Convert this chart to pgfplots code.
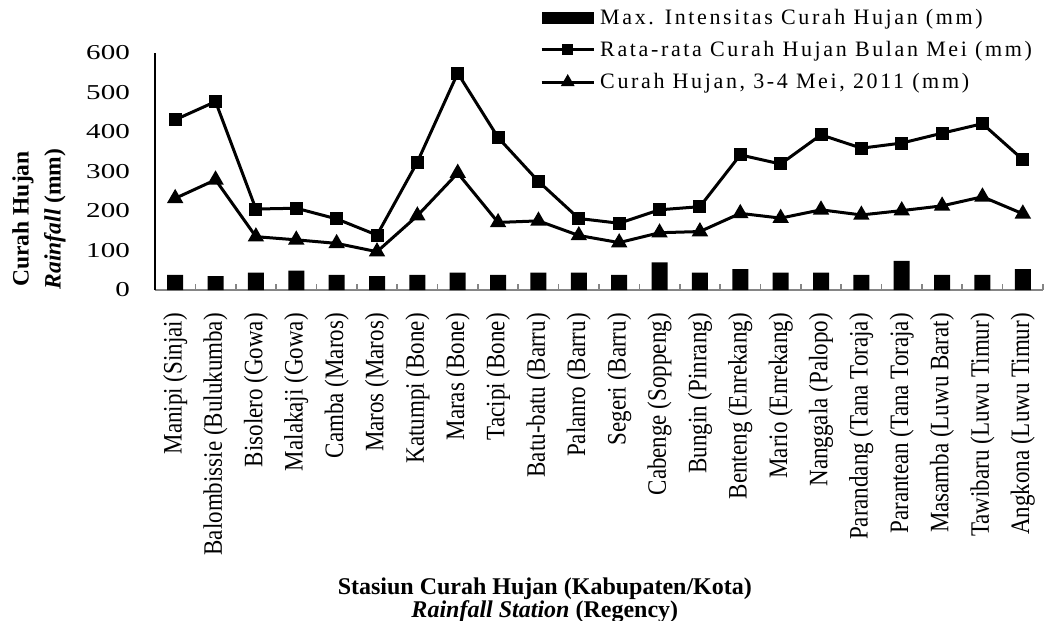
\documentclass[border=0pt]{standalone}
\usepackage{fontspec}
\setmainfont{Liberation Serif}
\newfontfamily\rotfont{Liberation Serif}[FakeStretch=0.865]
\newfontfamily\yfont{Liberation Serif}[FakeStretch=1.37]
\newfontfamily\legfont{Liberation Serif}[LetterSpace=12]
\usepackage{pgfplots}
\usepackage{pgfplotstable}
\pgfplotsset{compat=1.18}
\pgfplotstableread{
x bar avg may
0 38 431 232
1 35 477 279
2 44 205 135
3 49 207 127
4 38 180 118
5 35 139 97
6 38 324 188
7 44 549 296
8 38 386 171
9 44 275 175
10 44 181 138
11 38 169 120
12 70 203 145
13 44 211 148
14 53 342 194
15 44 319 182
16 44 393 203
17 38 359 190
18 74 372 201
19 38 397 213
20 38 421 236
21 53 330 193
}\data
\begin{document}
\begin{tikzpicture}
\useasboundingbox (0,0) rectangle (1045bp,621bp);
\begin{axis}[
  at={(155bp,331bp)}, anchor=south west,
  scale only axis, width=888bp, height=237bp,
  xmin=-0.5, xmax=21.5, ymin=0, ymax=600,
  clip=false,
  axis x line*=bottom, axis y line*=left,
  x axis line style={draw=black!48, line width=1.6bp, -},
  y axis line style={draw=black, line width=1.6bp, -},
  xtick={0,...,21},
  xticklabels={Manipi (Sinjai),Balombissie (Bulukumba),Bisolero (Gowa),Malakaji (Gowa),Camba (Maros),Maros (Maros),Katumpi (Bone),Maras (Bone),Tacipi (Bone),Batu-batu (Barru),Palanro (Barru),Segeri (Barru),Cabenge (Soppeng),Bungin (Pinrang),Benteng (Enrekang),Mario (Enrekang),Nanggala (Palopo),Parandang (Tana Toraja),Parantean (Tana Toraja),Masamba (Luwu Barat),Tawibaru (Luwu Timur),Angkona (Luwu Timur)},
  minor xtick={-0.5,0.5,...,21.5},
  major tick length=0pt,
  minor tick length=6bp,
  tick align=inside,
  every minor tick/.style={draw=black!48, line width=1.6bp},
  ytick={0,100,...,600},
  /pgf/number format/assume math mode=true,
  yticklabel style={font=\fontsize{21.2bp}{24bp}\yfont, anchor=east, inner sep=0pt, xshift=-25bp},
  xticklabel style={font=\fontsize{26.6bp}{28bp}\rotfont, rotate=90, anchor=east, inner sep=0pt},
  xticklabel shift=23bp,
  every axis x label/.style={at={(axis description cs:0.439,-1.215)}, anchor=north, align=center, inner sep=0pt, font=\fontsize{24bp}{22bp}\selectfont\bfseries},
  every axis y label/.style={at={(axis description cs:-0.1306,0.30)}, rotate=90, anchor=center, align=center, inner sep=0pt, font=\fontsize{23.5bp}{32bp}\selectfont\bfseries},
  xlabel={Stasiun Curah Hujan (Kabupaten/Kota)\\\textit{Rainfall Station} (Regency)},
  ylabel={Curah Hujan\\\textit{Rainfall} (mm)},
  legend style={at={(axis description cs:0.4336,1.19)}, anchor=north west, draw=none, fill=none, inner sep=0pt, row sep=13.5bp,
    font=\fontsize{22bp}{24bp}\legfont, nodes={inner sep=1bp}},
  legend cell align=left,
]
\addplot[ybar, bar width=16bp, fill=black, draw=none,
  legend image code/.code={\fill[black] (0bp,-6bp) rectangle (52bp,6bp);}]
  table[x=x, y=bar] {\data};
\addlegendentry{\hspace{4bp}Max. Intensitas Curah Hujan (mm)}
\addplot[black, line width=3bp, mark=square*, mark size=5bp,
  legend image code/.code={\draw[black, line width=3bp, mark=square*, mark size=4bp, mark repeat=2, mark phase=2] plot coordinates {(0bp,0bp) (26bp,0bp) (52bp,0bp)};}]
  table[x=x, y=avg] {\data};
\addlegendentry{\hspace{4bp}Rata-rata Curah Hujan Bulan Mei (mm)}
\addplot[black, line width=3bp, mark=triangle*, mark size=6.5bp,
  legend image code/.code={\draw[black, line width=3bp, mark=triangle*, mark size=5bp, mark repeat=2, mark phase=2] plot coordinates {(0bp,0bp) (26bp,0bp) (52bp,0bp)};}]
  table[x=x, y=may] {\data};
\addlegendentry{\hspace{4bp}Curah Hujan, 3-4 Mei, 2011 (mm)}
\end{axis}
\end{tikzpicture}
\end{document}
